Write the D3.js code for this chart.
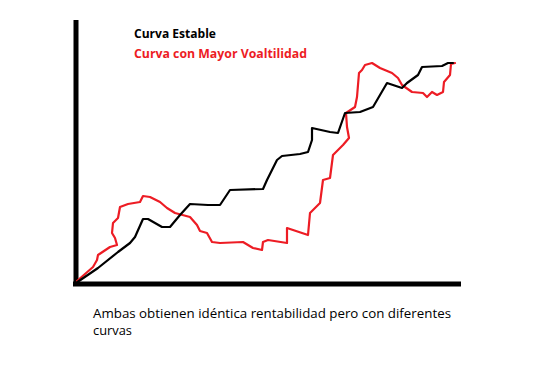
<!DOCTYPE html>
<html><head><meta charset="utf-8">
<script src="https://cdn.jsdelivr.net/npm/d3@7"></script>
<style>body{margin:0;background:#fff}svg{display:block}</style>
</head><body><div id="chart"></div>
<script>
const legendLabels = ["Curva Estable", "Curva con Mayor Voaltilidad"];
const captionLines = ["Ambas obtienen idéntica rentabilidad pero con diferentes", "curvas"];
const stablePoints = [[0,1],[22,16],[42,32],[54,41],[59,47],[67,65],[72,65],[86,57],[94,57],[104,69],[114,80],[132,79],[144,79],[154,94],[187,95],[191,104],[201,124],[206,128],[224,130],[232,132],[236,144],[236,156],[254,152],[262,151],[269,171],[284,172],[297,177],[311,201],[326,196],[331,201],[342,209],[346,217],[366,218],[372,221],[377,221]];
const volatilePoints = [[1,3],[17,17],[21,24],[22,29],[34,37],[41,39],[39,46],[36,51],[37,61],[42,66],[44,77],[52,80],[64,82],[67,88],[74,87],[84,82],[91,76],[99,71],[114,67],[121,59],[124,53],[131,51],[136,42],[144,41],[167,42],[177,36],[186,34],[187,42],[192,44],[211,41],[211,56],[217,54],[232,49],[234,71],[244,81],[247,104],[254,106],[257,129],[267,139],[273,146],[271,157],[270,171],[279,177],[281,187],[283,211],[286,214],[289,219],[296,221],[304,216],[316,211],[322,206],[326,199],[336,192],[347,191],[351,187],[356,192],[361,189],[367,192],[368,202],[374,209],[375,220],[379,221]];

const W = 539, H = 368;
const svg = d3.select("#chart").append("svg").attr("width", W).attr("height", H);
const x = d3.scaleLinear().domain([0, 385]).range([76, 461]);
const y = d3.scaleLinear().domain([0, 264]).range([284, 20]);

// axes (drawn as thick lines, no ticks)
const gx = svg.append("g").attr("transform", `translate(0,${y(0)})`)
  .call(d3.axisBottom(x).ticks(0).tickSize(0).tickSizeOuter(0));
gx.select(".domain").attr("stroke", "#000").attr("stroke-width", 5).attr("d", `M${x(-3)},0H${x(385)}`);
const gy = svg.append("g").attr("transform", `translate(${x(0)},0)`)
  .call(d3.axisLeft(y).ticks(0).tickSize(0).tickSizeOuter(0));
gy.select(".domain").attr("stroke", "#000").attr("stroke-width", 5).attr("d", `M0,${y(-2)}V${y(264)}`);

const line = d3.line().x(d => x(d[0])).y(d => y(d[1])).curve(d3.curveLinear);
svg.append("path").datum(volatilePoints).attr("d", line).attr("fill", "none")
  .attr("stroke", "#ed1c24").attr("stroke-width", 2.2).attr("stroke-linejoin", "round").attr("stroke-linecap", "round");
svg.append("path").datum(stablePoints).attr("d", line).attr("fill", "none")
  .attr("stroke", "#000").attr("stroke-width", 2.2).attr("stroke-linejoin", "round").attr("stroke-linecap", "round");

const font = "'Open Sans', 'Noto Sans', sans-serif";
svg.append("text").attr("x", 134).attr("y", 38).text(legendLabels[0])
  .attr("font-family", font).attr("font-weight", "bold").attr("font-size", 12).attr("fill", "#000")
  .attr("textLength", 82).attr("lengthAdjust", "spacingAndGlyphs");
svg.append("text").attr("x", 134).attr("y", 58).text(legendLabels[1])
  .attr("font-family", font).attr("font-weight", "bold").attr("font-size", 12).attr("fill", "#ed1c24")
  .attr("textLength", 173).attr("lengthAdjust", "spacingAndGlyphs");
svg.append("text").attr("x", 93).attr("y", 318).text(captionLines[0])
  .attr("font-family", font).attr("font-size", 12.5).attr("fill", "#000")
  .attr("textLength", 358).attr("lengthAdjust", "spacingAndGlyphs");
svg.append("text").attr("x", 93).attr("y", 335).text(captionLines[1])
  .attr("font-family", font).attr("font-size", 12.5).attr("fill", "#000")
  .attr("textLength", 39).attr("lengthAdjust", "spacingAndGlyphs");
</script></body></html>
